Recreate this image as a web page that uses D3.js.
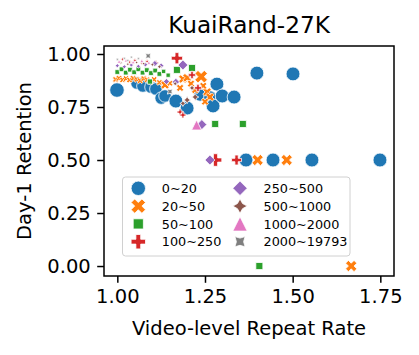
<!DOCTYPE html>
<html>
<head>
<meta charset="utf-8">
<script src="https://cdn.jsdelivr.net/npm/d3@7"></script>
<style>
  body { margin: 0; background: #fff; }
  svg { display: block; font-family: "DejaVu Sans", sans-serif; }
</style>
</head>
<body>
<div id="canvas"></div>
<script>
// bucket names, colours and marker shapes (seaborn defaults)
const groups = ['0~20', '20~50', '50~100', '100~250', '250~500', '500~1000', '1000~2000', '2000~19793'];
const colors = ['#1f77b4', '#ff7f0e', '#2ca02c', '#d62728', '#9467bd', '#8c564b', '#e377c2', '#7f7f7f'];
const shapes = ['circle', 'x', 'square', 'plus', 'diamond', 'star', 'triangle', 'starx'];

// points per bucket: [repeat rate, day-1 retention, relative size]
const pts0_20 = [
    [0.999, 0.830, 9.5], [1.056, 0.863, 8], [1.073, 0.849, 8], [1.096, 0.844, 8], [1.110, 0.835, 8],
    [1.125, 0.792, 8], [1.136, 0.802, 8], [1.167, 0.778, 9], [1.199, 0.745, 9], [1.236, 0.807, 8],
    [1.264, 0.797, 8], [1.273, 0.755, 9], [1.284, 0.858, 9], [1.299, 0.802, 9], [1.333, 0.797, 9],
    [1.398, 0.910, 9], [1.501, 0.906, 9], [1.367, 0.5, 9], [1.444, 0.5, 9], [1.555, 0.5, 9], [1.749, 0.5, 9]
];
const pts20_50 = [
    [0.995, 0.880, 3], [1.005, 0.886, 3], [1.015, 0.878, 3], [1.025, 0.884, 3], [1.035, 0.877, 3],
    [1.045, 0.886, 3], [1.055, 0.880, 3], [1.065, 0.874, 3], [1.075, 0.884, 3], [1.085, 0.878, 3],
    [1.095, 0.870, 3], [1.105, 0.880, 3], [1.120, 0.866, 3], [1.136, 0.854, 5], [1.150, 0.862, 3],
    [1.187, 0.882, 5], [1.199, 0.888, 5], [1.239, 0.893, 8], [1.179, 0.840, 4], [1.256, 0.821, 5],
    [1.264, 0.797, 5], [1.250, 0.775, 4], [1.222, 0.830, 4], [1.210, 0.860, 4], [1.245, 0.850, 4],
    [1.400, 0.5, 7], [1.483, 0.5, 7], [1.667, 0.0, 7]
];
const pts50_100 = [
    [1.000, 0.915, 3.5], [1.012, 0.928, 3.5], [1.024, 0.912, 3.5], [1.036, 0.926, 3.5], [1.048, 0.914, 3.5],
    [1.060, 0.928, 3.5], [1.072, 0.912, 3.5], [1.084, 0.924, 3.5], [1.096, 0.910, 3.5], [1.108, 0.922, 3.5],
    [1.120, 0.906, 3.5], [1.132, 0.918, 3], [1.145, 0.900, 3], [1.093, 0.870, 4], [1.170, 0.925, 6],
    [1.213, 0.934, 6], [1.279, 0.670, 6], [1.358, 0.670, 6], [1.405, 0.0, 6]
];
const pts100_250 = [
    [1.015, 0.975, 1], [1.035, 0.962, 1], [1.050, 0.970, 1], [1.070, 0.958, 1], [1.085, 0.965, 1],
    [1.110, 0.958, 2], [1.170, 0.980, 7], [1.213, 0.901, 4], [1.230, 0.840, 4], [1.179, 0.726, 3],
    [1.187, 0.712, 3], [1.280, 0.5, 8], [1.340, 0.5, 6]
];
const pts250_500 = [
    [1.000, 0.945, 1.5], [1.020, 0.940, 1.5], [1.040, 0.948, 1.5], [1.060, 0.942, 1.5], [1.080, 0.950, 2],
    [1.107, 0.955, 3], [1.125, 0.945, 2.5], [1.187, 0.948, 6], [1.167, 0.868, 4], [1.140, 0.870, 3],
    [1.241, 0.667, 6], [1.264, 0.5, 6]
];
const pts500_1000 = [
    [1.010, 0.958, 1], [1.030, 0.952, 1], [1.055, 0.960, 1], [1.075, 0.955, 1], [1.100, 0.950, 1.5],
    [1.120, 0.940, 2], [1.199, 0.783, 4], [1.222, 0.797, 4], [1.213, 0.840, 3], [1.187, 0.767, 3], [1.165, 0.860, 2]
];
const pts1000_2000 = [
    [1.005, 0.965, 1], [1.025, 0.970, 1], [1.045, 0.962, 1], [1.070, 0.968, 1], [1.090, 0.960, 1], [1.226, 0.665, 6]
];
const pts2000_19793 = [
    [1.000, 0.975, 1], [1.020, 0.980, 1], [1.030, 0.970, 1], [1.040, 0.985, 1], [1.060, 0.978, 1],
    [1.088, 0.991, 4], [1.150, 0.823, 4]
];
const series = [pts0_20, pts20_50, pts50_100, pts100_250, pts250_500, pts500_1000, pts1000_2000, pts2000_19793];

const xTicks = [1.0, 1.25, 1.5, 1.75];
const yTicks = [0, 0.25, 0.5, 0.75, 1.0];

const W = 419, H = 355;
const m = { left: 104, right: 25, top: 46, bottom: 79 };

const x = d3.scaleLinear().domain([0.962, 1.789]).range([m.left, W - m.right]);
const y = d3.scaleLinear().domain([-0.047, 1.0377]).range([H - m.bottom, m.top]);
const r = d3.scaleLinear().domain([1, 10]).range([1.7, 7.6]);

// matplotlib-like marker outlines, r = outer radius
function poly(pts) { return 'M' + pts.map(p => p[0].toFixed(2) + ',' + p[1].toFixed(2)).join('L') + 'Z'; }
function star(rr, rot) {
    const pts = [];
    for (let i = 0; i < 8; i++) {
        const a = -Math.PI / 2 + rot + i * Math.PI / 4;
        const rad = i % 2 === 0 ? rr : rr / 2;
        pts.push([rad * Math.cos(a), rad * Math.sin(a)]);
    }
    return poly(pts);
}
function markerPath(shape, rr) {
    switch (shape) {
        case 'circle': {
            const p = d3.path(); p.arc(0, 0, rr, 0, 2 * Math.PI); return p.toString();
        }
        case 'x':
            return poly([[-1, -2], [0, -1], [1, -2], [2, -1], [1, 0], [2, 1], [1, 2], [0, 1], [-1, 2], [-2, 1], [-1, 0], [-2, -1]]
                .map(p => [p[0] * rr / 2, p[1] * rr / 2]));
        case 'plus':
            return poly([[-1, -3], [1, -3], [1, -1], [3, -1], [3, 1], [1, 1], [1, 3], [-1, 3], [-1, 1], [-3, 1], [-3, -1], [-1, -1]]
                .map(p => [p[0] * rr / 3, p[1] * rr / 3]));
        case 'square': {
            const s = rr / Math.SQRT2; return poly([[-s, -s], [s, -s], [s, s], [-s, s]]);
        }
        case 'diamond':
            return poly([[0, -rr], [rr, 0], [0, rr], [-rr, 0]]);
        case 'triangle':
            return poly([[0, -rr], [rr, rr], [-rr, rr]]);
        case 'star':
            return star(rr, 0);
        case 'starx':
            return star(rr, Math.PI / 4);
    }
}

const svg = d3.select('#canvas').append('svg').attr('width', W).attr('height', H);

// points
series.forEach(function(pts, gi) {
    svg.append('g').selectAll('path')
        .data(pts)
        .enter()
        .append('path')
            .attr('transform', d => 'translate(' + x(d[0]) + ',' + y(d[1]) + ')')
            .attr('d', d => markerPath(shapes[gi], r(d[2])))
            .style('fill', colors[gi])
            .style('stroke', '#fff')
            .style('stroke-width', 0.8);
});

// axes
const fs = 19.5;
const xAxis = svg.append('g').attr('transform', 'translate(0,' + (H - m.bottom) + ')')
    .call(d3.axisBottom(x).tickValues(xTicks).tickFormat(d3.format('.2f')).tickSize(6.8).tickPadding(6.5));
const yAxis = svg.append('g').attr('transform', 'translate(' + m.left + ',0)')
    .call(d3.axisLeft(y).tickValues(yTicks).tickFormat(d3.format('.2f')).tickSize(6.8).tickPadding(6.5));
[xAxis, yAxis].forEach(function(a) {
    a.select('.domain').remove();
    a.selectAll('line').style('stroke', '#000').style('stroke-width', 1.5);
    a.selectAll('text').style('font-family', '"DejaVu Sans", sans-serif').style('font-size', fs + 'px').style('fill', '#000');
});

// frame
svg.append('rect')
    .attr('x', m.left).attr('y', m.top)
    .attr('width', W - m.left - m.right).attr('height', H - m.top - m.bottom)
    .style('fill', 'none').style('stroke', '#000').style('stroke-width', 1.5);

// titles
svg.append('text')
    .attr('x', (m.left + W - m.right) / 2).attr('y', 33)
    .style('text-anchor', 'middle').style('font-size', '23.2px')
    .text('KuaiRand-27K');
svg.append('text')
    .attr('x', (m.left + W - m.right) / 2).attr('y', 335)
    .style('text-anchor', 'middle').style('font-size', fs + 'px')
    .text('Video-level Repeat Rate');
svg.append('text')
    .attr('transform', 'translate(31,' + ((m.top + H - m.bottom) / 2) + ') rotate(-90)')
    .style('text-anchor', 'middle').style('font-size', fs + 'px')
    .text('Day-1 Retention');

// legend
const lg = svg.append('g');
lg.append('rect')
    .attr('x', 122.5).attr('y', 177).attr('width', 227.5).attr('height', 79).attr('rx', 3)
    .style('fill', '#fff').style('fill-opacity', 0.8)
    .style('stroke', '#d0d0d0').style('stroke-width', 1);
groups.forEach(function(g, i) {
    const col = Math.floor(i / 4), row = i % 4;
    const mx = 138.3 + col * 101.7, my = 188.3 + row * 17.8;
    lg.append('path')
        .attr('transform', 'translate(' + mx + ',' + my + ')')
        .attr('d', markerPath(shapes[i], 7.2))
        .style('fill', colors[i]).style('stroke', '#fff').style('stroke-width', 0.8);
    lg.append('text')
        .attr('x', mx + 23.5).attr('y', my + 4.6)
        .style('font-size', '12.8px')
        .text(g);
});
</script>
</body>
</html>
